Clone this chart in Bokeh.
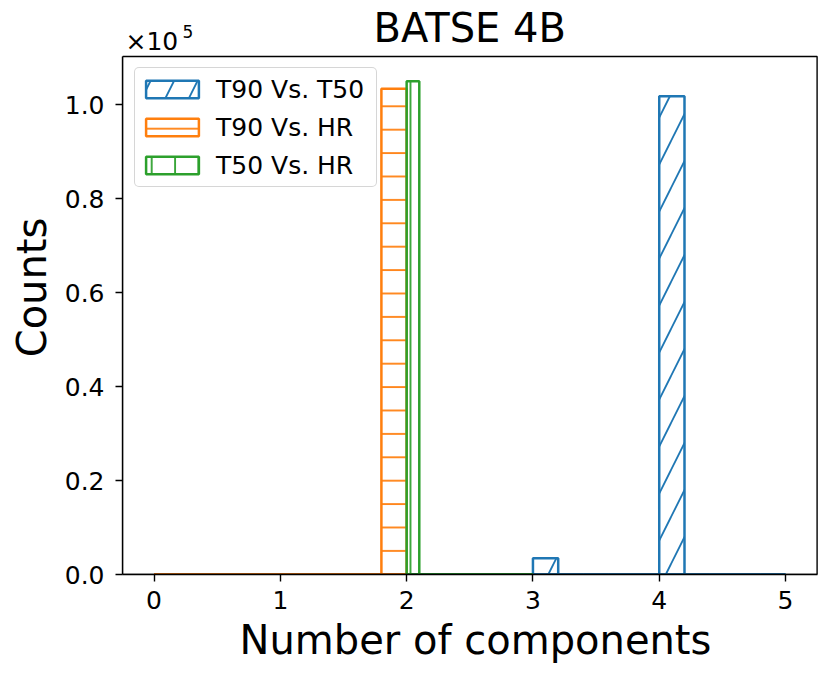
from bokeh.plotting import figure
from bokeh.models import Range1d, FixedTicker, Label, Legend, BoxAnnotation
from bokeh.embed import file_html
from bokeh.resources import INLINE

# ---------------- data ----------------
title_text = "BATSE 4B"
x_label = "Number of components"
y_label = "Counts"
offset_text = "×10"
offset_exp = "5"

series_names = ["T90 Vs. T50", "T90 Vs. HR", "T50 Vs. HR"]
colors = ["#1f77b4", "#ff7f0e", "#2ca02c"]
hatches = ["/", "-", "|"]

edges_t90_t50 = [0.0, 0.2, 0.4, 0.6, 0.8, 1.0, 1.2, 1.4, 1.6, 1.8, 2.0, 2.2, 2.4,
                 2.6, 2.8, 3.0, 3.2, 3.4, 3.6, 3.8, 4.0, 4.2, 4.4, 4.6, 4.8, 5.0]
counts_t90_t50 = [0, 0, 0, 0, 0, 0, 0, 0, 0, 0, 0, 0, 0, 0, 0,
                  3470, 0, 0, 0, 0, 101870, 0, 0, 0, 0]

edges_t90_hr = [0.0, 0.2, 0.4, 0.6, 0.8, 1.0, 1.2, 1.4, 1.6, 1.8, 2.0]
counts_t90_hr = [0, 0, 0, 0, 0, 0, 0, 0, 0, 103450]

edges_t50_hr = [2.0, 2.1, 2.2, 2.3, 2.4, 2.5, 2.6, 2.7, 2.8, 2.9, 3.0]
counts_t50_hr = [105070, 0, 0, 0, 0, 0, 0, 0, 0, 0]

x_ticks = [0, 1, 2, 3, 4, 5]
y_ticks = [0, 20000, 40000, 60000, 80000, 100000]
y_tick_labels = ["0.0", "0.2", "0.4", "0.6", "0.8", "1.0"]

FONT = "DejaVu Sans"

# ---------------- layout geometry (pixels) ----------------
CANVAS_W, CANVAS_H = 828, 675
BOX_L, BOX_R, BOX_T, BOX_B = 122, 816.6, 56, 574   # axes box on the canvas

# axes-box data limits (matplotlib-like 5% margins)
x_lo, x_hi = -0.25, 5.25
y_lo = 0
y_hi = max(max(counts_t90_t50), max(counts_t90_hr), max(counts_t50_hr)) * 1.05

# the Bokeh frame spans from the box's left/bottom to the canvas top/right
x_end = x_lo + (x_hi - x_lo) * (CANVAS_W - BOX_L) / (BOX_R - BOX_L)
y_end = y_lo + (y_hi - y_lo) * BOX_B / (BOX_B - BOX_T)
y_per_px = (y_hi - y_lo) / (BOX_B - BOX_T)

p = figure(width=CANVAS_W, height=CANVAS_H, output_backend="svg",
           toolbar_location=None, title=None,
           x_range=Range1d(x_lo, x_end), y_range=Range1d(y_lo, y_end),
           min_border_left=BOX_L, min_border_right=0, min_border_top=0,
           min_border_bottom=CANVAS_H - BOX_B)

p.xgrid.visible = False
p.ygrid.visible = False
p.outline_line_color = None
p.background_fill_color = "white"
p.border_fill_color = "white"

for ax in (p.xaxis, p.yaxis):
    ax.minor_tick_line_color = None
    ax.major_tick_out = 7
    ax.major_tick_in = 0
    ax.major_tick_line_width = 1.4
    ax.major_tick_line_color = "black"
    ax.axis_line_width = 1.4
    ax.axis_line_color = "black"
    ax.major_label_text_font_size = "25px"
    ax.major_label_text_font = FONT
    ax.major_label_text_color = "black"
    ax.axis_label_text_font_size = "40px"
    ax.axis_label_text_font_style = "normal"
    ax.axis_label_text_font = FONT
    ax.axis_label_text_color = "black"

p.xaxis.ticker = FixedTicker(ticks=x_ticks)
p.xaxis.bounds = (x_lo, x_hi)
p.xaxis.axis_label = x_label
p.xaxis.major_label_standoff = 9
p.xaxis.axis_label_standoff = 5

p.yaxis.ticker = FixedTicker(ticks=y_ticks)
p.yaxis.bounds = (y_lo, y_hi)
p.yaxis.major_label_overrides = {t: l for t, l in zip(y_ticks, y_tick_labels)}
p.yaxis.axis_label = y_label
p.yaxis.major_label_standoff = 11
p.yaxis.axis_label_standoff = 7

series = [
    (edges_t90_t50, counts_t90_t50, 47),
    (edges_t90_hr, counts_t90_hr, 23.4),
    (edges_t50_hr, counts_t50_hr, 23.4),
]

for (edges, counts, hscale), name, color, hatch in zip(series, series_names, colors, hatches):
    p.quad(left=edges[:-1], right=edges[1:], top=counts, bottom=[0] * len(counts),
           fill_color=None, line_color=color, line_width=2.5,
           hatch_pattern=hatch, hatch_color=color, hatch_scale=hscale,
           hatch_weight=1.8, legend_label=name)
    p.line(x=[edges[0], edges[-1]], y=[0, 0], line_color=color, line_width=2.5)

# axes box (spines)
p.add_layout(BoxAnnotation(left=x_lo, right=x_hi, bottom=y_lo, top=y_hi,
                           fill_color=None, fill_alpha=0, line_color="black",
                           line_width=1.4, line_alpha=1.0))

lg = p.legend[0]
lg.location = (12, 387)
lg.padding = 4
lg.spacing = 4
lg.label_height = 34
lg.glyph_width = 66
lg.glyph_height = 22
lg.label_standoff = 11
lg.label_width = 156
lg.label_text_font_size = "25px"
lg.label_text_font = FONT
lg.label_text_color = "black"
lg.border_line_color = "#cccccc"
lg.border_line_width = 1.4
lg.border_line_alpha = 0.8
lg.background_fill_alpha = 0.8
if "border_radius" in Legend.properties():
    lg.border_radius = 5

# title and the scientific offset text, placed above the axes box
p.add_layout(Label(x=(x_lo + x_hi) / 2, y=y_hi + 29 * y_per_px,
                   x_units="data", y_units="data",
                   text=title_text, text_align="center",
                   text_baseline="alphabetic", text_font=FONT,
                   text_font_size="40px", text_color="black"))
p.add_layout(Label(x=x_lo, y=y_hi + 15 * y_per_px, x_units="data", y_units="data",
                   x_offset=3, text=offset_text, text_align="left",
                   text_baseline="alphabetic", text_font=FONT, text_font_size="25px",
                   text_color="black"))
p.add_layout(Label(x=x_lo, y=y_hi + 25.5 * y_per_px, x_units="data", y_units="data",
                   x_offset=60, text=offset_exp, text_align="left",
                   text_baseline="alphabetic", text_font=FONT, text_font_size="17px",
                   text_color="black"))

open("out.html", "w").write(file_html(p, INLINE))
